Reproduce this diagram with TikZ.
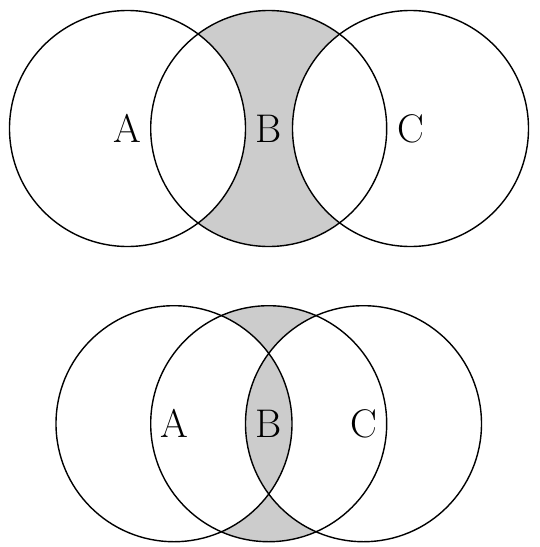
\documentclass[tikz,border=0pt]{standalone}
\begin{document}
\begin{tikzpicture}[x=1pt,y=-1pt,
  ring/.style={draw=black,line width=1.4pt},
  lbl/.style={font=\fontsize{40}{40}\selectfont,inner sep=0pt}]
\useasboundingbox (0,0) rectangle (540,547);
% top row
\coordinate (tA) at (127.5,128.5);
\coordinate (tB) at (268.7,128.5);
\coordinate (tC) at (410.5,128.5);
\begin{scope}
  \clip (tB) circle (118);
  \fill[black!20,even odd rule] (tA) circle (118) (tB) circle (118) (tC) circle (118);
\end{scope}
\draw[ring] (tA) circle (118);
\draw[ring] (tB) circle (118);
\draw[ring] (tC) circle (118);
\node[lbl] (la) at (tA) {A};
\node[lbl] (lb) at (tB) {B};
\node[lbl] (lc) at (tC) {C};
% bottom row
\coordinate (bA) at (174,423.7);
\coordinate (bB) at (268.7,423.7);
\coordinate (bC) at (363.5,423.7);
\begin{scope}
  \clip (bB) circle (118);
  \fill[black!20,even odd rule] (bA) circle (118) (bB) circle (118) (bC) circle (118);
\end{scope}
\draw[ring] (bA) circle (118);
\draw[ring] (bB) circle (118);
\draw[ring] (bC) circle (118);
\node[lbl] (ba) at (bA) {A};
\node[lbl] (bb) at (bB) {B};
\node[lbl] (bc) at (bC) {C};
\end{tikzpicture}
\end{document}
